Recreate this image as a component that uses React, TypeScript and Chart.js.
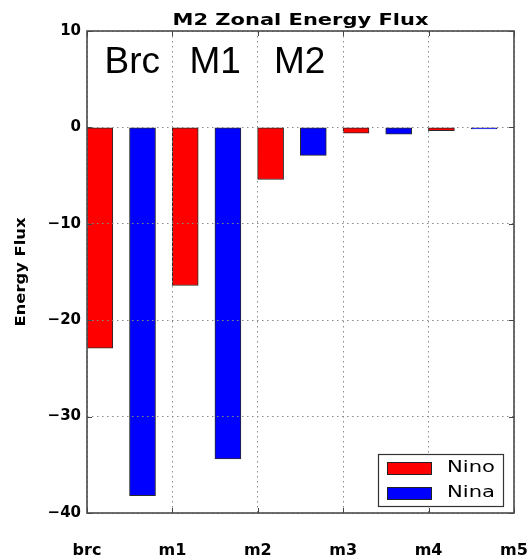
import React, { useEffect, useRef } from "react";
import { Chart, registerables } from "chart.js";

Chart.register(...registerables);

const categories = ["brc", "m1", "m2", "m3", "m4", "m5"];
const ninoValues = [-22.9, -16.4, -5.4, -0.6, -0.35];
const ninaValues = [-38.2, -34.4, -2.9, -0.7, -0.15];
const yTicks = [10, 0, -10, -20, -30, -40];
const annotations = [
  { text: "Brc", at: 0.53 },
  { text: "M1", at: 1.5 },
  { text: "M2", at: 2.49 },
];
const seriesNames = ["Nino", "Nina"];
const seriesColors = ["#ff0000", "#0000ff"];
const titleText = "M2 Zonal Energy Flux";
const yTitleText = "Energy Flux";

// bar placement inside each category slot (left-aligned matplotlib bars)
const NINO_SHIFT = 0.15;
const NINA_SHIFT = 0.65;

function drawStretched(
  ctx: CanvasRenderingContext2D,
  text: string,
  x: number,
  y: number,
  font: string,
  targetWidth: number | null,
  align: "left" | "center" | "right",
  baseline: CanvasTextBaseline
) {
  ctx.save();
  ctx.font = font;
  const w = ctx.measureText(text).width;
  const sx = targetWidth ? targetWidth / w : 1;
  ctx.translate(x, y);
  ctx.scale(sx, 1);
  ctx.textAlign = align;
  ctx.textBaseline = baseline;
  ctx.fillStyle = "#000";
  ctx.fillText(text, 0, 0);
  ctx.restore();
}

const decorPlugin = {
  id: "decor",
  afterDraw(chart: any) {
    const { ctx, chartArea } = chart;
    const xs = chart.scales.x;
    const ys = chart.scales.y;
    const { left, right, top, bottom } = chartArea;

    // inward tick marks
    ctx.save();
    ctx.strokeStyle = "#444";
    ctx.lineWidth = 1;
    ctx.beginPath();
    for (let i = 0; i < categories.length; i++) {
      const px = Math.round(xs.getPixelForValue(i)) + 0.5;
      ctx.moveTo(px, bottom);
      ctx.lineTo(px, bottom - 5);
      ctx.moveTo(px, top);
      ctx.lineTo(px, top + 5);
    }
    for (const v of yTicks) {
      const py = Math.round(ys.getPixelForValue(v)) + 0.5;
      ctx.moveTo(left, py);
      ctx.lineTo(left + 5, py);
      ctx.moveTo(right, py);
      ctx.lineTo(right - 5, py);
    }
    ctx.stroke();
    // frame
    ctx.strokeStyle = "#4a4a4a";
    ctx.lineWidth = 1.6;
    ctx.strokeRect(left, top, right - left, bottom - top);
    ctx.restore();

    // title
    drawStretched(ctx, titleText, (left + right) / 2, 24.5,
      "bold 15px 'DejaVu Sans'", 256, "center", "alphabetic");

    // y axis title
    ctx.save();
    ctx.translate(21, (top + bottom) / 2);
    ctx.rotate(-Math.PI / 2);
    drawStretched(ctx, yTitleText, 0, 0, "bold 14px 'DejaVu Sans'", 109, "center", "middle");
    ctx.restore();

    // annotations
    for (const a of annotations) {
      drawStretched(ctx, a.text, xs.getPixelForValue(a.at), 72.5,
        "37px 'Liberation Sans'", null, "center", "alphabetic");
    }

    // legend box (inside plot, lower right)
    ctx.save();
    const lx = 378, ly = 454, lw = 125, lh = 52;
    ctx.fillStyle = "#fff";
    ctx.fillRect(lx, ly, lw, lh);
    ctx.strokeStyle = "#333";
    ctx.lineWidth = 1.2;
    ctx.strokeRect(lx + 0.5, ly + 0.5, lw, lh);
    seriesNames.forEach((name, i) => {
      const sy = ly + 8 + i * 25;
      ctx.fillStyle = seriesColors[i];
      ctx.fillRect(lx + 9, sy, 44, 12);
      ctx.strokeStyle = "#222";
      ctx.lineWidth = 1;
      ctx.strokeRect(lx + 9.5, sy + 0.5, 44, 12);
      drawStretched(ctx, name, lx + 69, sy + 6.5, "15px 'DejaVu Sans'", 48, "left", "middle");
    });
    ctx.restore();
  },
};

export default function App() {
  const ref = useRef<HTMLCanvasElement | null>(null);

  useEffect(() => {
    if (!ref.current) return;
    const chart = new Chart(ref.current, {
      type: "bar",
      data: {
        datasets: [
          {
            label: seriesNames[0],
            data: ninoValues.map((v, i) => ({ x: i + NINO_SHIFT, y: v })),
            backgroundColor: seriesColors[0],
            borderColor: "#2a2a2a",
            borderWidth: 1,
            borderSkipped: false,
            barThickness: 26,
            grouped: false,
          },
          {
            label: seriesNames[1],
            data: ninaValues.map((v, i) => ({ x: i + NINA_SHIFT, y: v })),
            backgroundColor: seriesColors[1],
            borderColor: "#2a2a2a",
            borderWidth: 1,
            borderSkipped: false,
            barThickness: 26,
            grouped: false,
          },
        ],
      },
      options: {
        responsive: false,
        animation: false,
        layout: { padding: { left: 0, right: 17, top: 31, bottom: 0 } },
        plugins: {
          legend: { display: false },
          title: { display: false },
          tooltip: { enabled: false },
        },
        scales: {
          x: {
            type: "linear",
            offset: false,
            min: 0,
            max: categories.length - 1,
            afterFit: (s: any) => {
              s.height = 47;
            },
            ticks: {
              stepSize: 1,
              padding: 0,
              color: "#000",
              font: { family: "'DejaVu Sans'", size: 16, weight: "bold" },
              callback: (v: any) => categories[Math.round(Number(v))] ?? "",
              maxRotation: 0,
              autoSkip: false,
            },
            grid: {
              color: "#8a8a8a",
              lineWidth: 1,
              offset: false,
              drawTicks: true,
              tickLength: 28,
              tickColor: "rgba(0,0,0,0)",
              z: 1,
            },
            border: { display: false, dash: [1.5, 3.5] },
          },
          y: {
            type: "linear",
            min: yTicks[yTicks.length - 1],
            max: yTicks[0],
            afterFit: (s: any) => {
              s.width = 87;
            },
            ticks: {
              stepSize: 10,
              padding: 6,
              color: "#000",
              font: { family: "'DejaVu Sans'", size: 15, weight: "bold" },
              callback: (v: any) => String(v).replace("-", "\u2212"),
            },
            grid: {
              color: "#8a8a8a",
              lineWidth: 1,
              drawTicks: false,
              z: 1,
            },
            border: { display: false, dash: [1.5, 3.5] },
          },
        },
      },
      plugins: [decorPlugin],
    } as any);
    return () => chart.destroy();
  }, []);

  return (
    <div style={{ position: "fixed", left: 0, top: 0, width: 531, height: 560, background: "#fff" }}>
      <canvas ref={ref} width={531} height={560} style={{ display: "block" }} />
    </div>
  );
}
